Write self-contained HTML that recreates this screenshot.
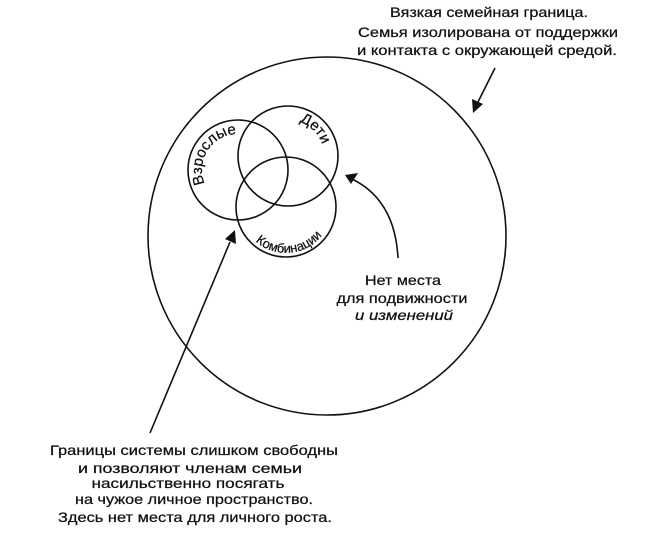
<!DOCTYPE html>
<html><head><meta charset="utf-8"><style>
html,body{margin:0;padding:0;background:#fff;}
svg{display:block;}
text{font-family:"Liberation Sans","DejaVu Sans",sans-serif;fill:#111;stroke:#111;stroke-width:0.25;}
</style></head><body>
<svg width="659" height="550" viewBox="0 0 659 550" xmlns="http://www.w3.org/2000/svg">
<defs>
<path id="pV" d="M206.8,188 A36,36 0 0 1 241.1,134.1"/>
<path id="pD" d="M291.1,120.1 A36,36 0 0 1 323.9,152.9"/>
<path id="pK" d="M246.2,230 A46,46 0 0 0 329.2,222.7"/>
</defs>
<g fill="none" stroke="#111" stroke-width="1.6">
<circle cx="327" cy="236" r="179"/>
<circle cx="238" cy="170" r="50"/>
<circle cx="288" cy="156" r="50"/>
<circle cx="286" cy="207" r="50"/>
<line x1="495" y1="68" x2="477" y2="104"/>
<path d="M398,258 Q395,200 352,179"/>
<line x1="150" y1="433" x2="230" y2="242"/>
</g>
<g fill="#111">
<polygon points="473,113 472,99 483,104"/>
<polygon points="345,175 358,173 351,184"/>
<polygon points="235,230 236,244 225,239"/>
</g>
<text font-size="15"><textPath href="#pV" startOffset="50%" text-anchor="middle">Взрослые</textPath></text>
<text font-size="15"><textPath href="#pD" startOffset="50%" text-anchor="middle">Дети</textPath></text>
<text font-size="13"><textPath href="#pK" startOffset="50%" text-anchor="middle">Комбинации</textPath></text>
<g font-size="14" text-anchor="middle">
<text x="489" y="17" textLength="198" lengthAdjust="spacingAndGlyphs">Вязкая семейная граница.</text>
<text x="488" y="37" textLength="260" lengthAdjust="spacingAndGlyphs">Семья изолирована от поддержки</text>
<text x="487" y="55" textLength="260" lengthAdjust="spacingAndGlyphs">и контакта с окружающей средой.</text>
<text x="403" y="285" textLength="76" lengthAdjust="spacingAndGlyphs">Нет места</text>
<text x="402" y="303" textLength="131" lengthAdjust="spacingAndGlyphs">для подвижности</text>
<text x="404" y="320" font-style="italic" textLength="98" lengthAdjust="spacingAndGlyphs">и изменений</text>
<text x="194" y="455" textLength="288" lengthAdjust="spacingAndGlyphs">Границы системы слишком свободны</text>
<text x="190" y="473" textLength="224" lengthAdjust="spacingAndGlyphs">и позволяют членам семьи</text>
<text x="188" y="488" textLength="193" lengthAdjust="spacingAndGlyphs">насильственно посягать</text>
<text x="194" y="504" textLength="238" lengthAdjust="spacingAndGlyphs">на чужое личное пространство.</text>
<text x="195" y="522" textLength="274" lengthAdjust="spacingAndGlyphs">Здесь нет места для личного роста.</text>
</g>
</svg>
</body></html>
